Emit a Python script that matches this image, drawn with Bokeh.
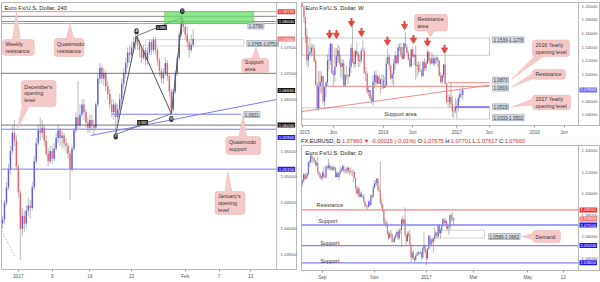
from bokeh.plotting import figure
from bokeh.models import (FixedTicker, PrintfTickFormatter, Label, BoxAnnotation,
                          PolyAnnotation, Span, ColumnDataSource, Div)
from bokeh.layouts import row, column
from bokeh.embed import file_html
from bokeh.resources import INLINE

FONT = "Liberation Sans"
UP = "#5c5cf2"
DOWN = "#ef6262"
WICK = "#a8a8a8"
PINK = "#f6c9c9"
PINK_LINE = "#e68d8d"
TAG_BG = "#d3dbe4"
TAG_LINE = "#8d9db0"

# ---------------- H4 panel data (EUR/USD, 240) ----------------
h4_open0 = 1.0410
h4_close = [1.0418, 1.0450, 1.0480, 1.0515, 1.0550, 1.0585, 1.0570, 1.0520, 1.0470, 1.0400,
            1.0425, 1.0410, 1.0435, 1.0445, 1.0440, 1.0480, 1.0530, 1.0565, 1.0590, 1.0585,
            1.0595, 1.0570, 1.0545, 1.0530, 1.0550, 1.0535, 1.0555, 1.0575, 1.0590, 1.0575,
            1.0580, 1.0565, 1.0560, 1.0545, 1.0515, 1.0555, 1.0590, 1.0615, 1.0600, 1.0620,
            1.0640, 1.0625, 1.0605, 1.0595, 1.0610, 1.0600, 1.0595, 1.0640, 1.0690, 1.0710,
            1.0690, 1.0700, 1.0675, 1.0660, 1.0640, 1.0625, 1.0640, 1.0615, 1.0630, 1.0650,
            1.0680, 1.0700, 1.0720, 1.0740, 1.0735, 1.0750, 1.0760, 1.0770, 1.0755, 1.0745,
            1.0730, 1.0745, 1.0725, 1.0740, 1.0760, 1.0745, 1.0765, 1.0745, 1.0725, 1.0705,
            1.0690, 1.0700, 1.0720, 1.0695, 1.0665, 1.0630, 1.0665, 1.0700, 1.0730, 1.0775,
            1.0800, 1.0790, 1.0775, 1.0760, 1.0745, 1.0755, 1.0766]
h4_high = [1.0425, 1.0455, 1.0490, 1.0525, 1.0560, 1.0600, 1.0610, 1.0580, 1.0525, 1.0475,
           1.0440, 1.0435, 1.0445, 1.0460, 1.0455, 1.0490, 1.0540, 1.0575, 1.0600, 1.0615,
           1.0610, 1.0600, 1.0580, 1.0555, 1.0560, 1.0560, 1.0565, 1.0585, 1.0600, 1.0595,
           1.0590, 1.0585, 1.0575, 1.0565, 1.0550, 1.0560, 1.0595, 1.0625, 1.0685, 1.0640,
           1.0650, 1.0650, 1.0630, 1.0615, 1.0620, 1.0620, 1.0610, 1.0645, 1.0700, 1.0720,
           1.0715, 1.0710, 1.0705, 1.0685, 1.0670, 1.0650, 1.0650, 1.0645, 1.0640, 1.0660,
           1.0690, 1.0710, 1.0730, 1.0750, 1.0755, 1.0760, 1.0770, 1.0775, 1.0775, 1.0765,
           1.0755, 1.0755, 1.0750, 1.0750, 1.0765, 1.0765, 1.0770, 1.0770, 1.0750, 1.0730,
           1.0710, 1.0710, 1.0730, 1.0725, 1.0700, 1.0670, 1.0670, 1.0705, 1.0735, 1.0780,
           1.0812, 1.0805, 1.0795, 1.0790, 1.0765, 1.0775, 1.0785]
h4_low = [1.0400, 1.0410, 1.0445, 1.0475, 1.0505, 1.0545, 1.0560, 1.0515, 1.0460, 1.0340,
          1.0385, 1.0395, 1.0400, 1.0425, 1.0420, 1.0435, 1.0475, 1.0525, 1.0560, 1.0570,
          1.0575, 1.0560, 1.0540, 1.0520, 1.0525, 1.0525, 1.0530, 1.0550, 1.0565, 1.0560,
          1.0555, 1.0555, 1.0545, 1.0535, 1.0455, 1.0510, 1.0550, 1.0585, 1.0595, 1.0595,
          1.0615, 1.0610, 1.0595, 1.0585, 1.0585, 1.0590, 1.0580, 1.0590, 1.0635, 1.0680,
          1.0680, 1.0675, 1.0665, 1.0650, 1.0630, 1.0615, 1.0610, 1.0580, 1.0605, 1.0620,
          1.0640, 1.0670, 1.0690, 1.0710, 1.0720, 1.0725, 1.0740, 1.0745, 1.0745, 1.0730,
          1.0720, 1.0725, 1.0715, 1.0715, 1.0735, 1.0735, 1.0740, 1.0735, 1.0715, 1.0695,
          1.0680, 1.0680, 1.0695, 1.0685, 1.0655, 1.0620, 1.0625, 1.0660, 1.0695, 1.0725,
          1.0770, 1.0780, 1.0765, 1.0750, 1.0730, 1.0740, 1.0750]
h4_tick_pos = [8, 25, 44, 65, 92, 109, 125]
h4_tick_text = ["2017", "9", "16", "23", "Feb", "7", "13"]
h4_price_ticks = [1.035, 1.040, 1.045, 1.050, 1.055, 1.065, 1.070, 1.075]
h4_round_levels = [1.0800, 1.0700, 1.0600]
h4_weekly_res = 1.0819
h4_qm_res = 1.0796
h4_qm_res_top = 1.0810
h4_support_area = (1.0753, 1.0765)
h4_qm_support = 1.0621
h4_dec_open = 1.0592
h4_jan_open = 1.0515
h4_pattern_bar = [57, 67.5, 85, 90.5]
h4_pattern_price = [1.0582, 1.0772, 1.0622, 1.0808]
h4_pattern_names = ["X", "A", "B", "C"]

# ---------------- Weekly panel data ----------------
w_open0 = 1.2030
w_close = [1.2000, 1.1840, 1.1565, 1.1205, 1.1290, 1.1320, 1.1390, 1.1380, 1.1195, 1.0840,
           1.0495, 1.0820, 1.0890, 1.0970, 1.0600, 1.0805, 1.0875, 1.1200, 1.1200, 1.1450,
           1.1010, 1.0985, 1.1110, 1.1260, 1.1350, 1.1165, 1.1105, 1.1160, 1.0830, 1.0985,
           1.0985, 1.0965, 1.1105, 1.1385, 1.1180, 1.1150, 1.1340, 1.1295, 1.1195, 1.1210,
           1.1345, 1.1350, 1.1015, 1.1000, 1.0740, 1.0765, 1.0645, 1.0590, 1.0885, 1.0990,
           1.0865, 1.0965, 1.0855, 1.0920, 1.0915, 1.0795, 1.0830, 1.1155, 1.1255, 1.1130,
           1.0935, 1.1000, 1.1155, 1.1270, 1.1165, 1.1390, 1.1400, 1.1285, 1.1225, 1.1455,
           1.1400, 1.1310, 1.1220, 1.1115, 1.1365, 1.1255, 1.1280, 1.1120, 1.1135, 1.1050,
           1.1035, 1.0975, 1.1175, 1.1085, 1.1160, 1.1325, 1.1195, 1.1155, 1.1235, 1.1155,
           1.1225, 1.1240, 1.1200, 1.0970, 1.0885, 1.0985, 1.1140, 1.0860, 1.0590, 1.0590,
           1.0660, 1.0560, 1.0450, 1.0455, 1.0520, 1.0530, 1.0645, 1.0705, 1.0695, 1.0766]
w_high = [1.2045, 1.2000, 1.1840, 1.1680, 1.1425, 1.1535, 1.1445, 1.1450, 1.1430, 1.1220,
          1.0880, 1.1045, 1.1050, 1.1035, 1.0965, 1.0830, 1.0900, 1.1290, 1.1390, 1.1465,
          1.1440, 1.1050, 1.1385, 1.1385, 1.1435, 1.1410, 1.1280, 1.1215, 1.1215, 1.1010,
          1.1130, 1.1000, 1.1215, 1.1440, 1.1715, 1.1330, 1.1360, 1.1460, 1.1330, 1.1290,
          1.1385, 1.1495, 1.1390, 1.1100, 1.1045, 1.0830, 1.0760, 1.0690, 1.0985, 1.1045,
          1.1060, 1.0990, 1.0990, 1.0935, 1.0990, 1.0990, 1.0960, 1.1240, 1.1375, 1.1285,
          1.1070, 1.1020, 1.1220, 1.1340, 1.1285, 1.1440, 1.1455, 1.1465, 1.1400, 1.1465,
          1.1615, 1.1445, 1.1350, 1.1250, 1.1375, 1.1415, 1.1300, 1.1425, 1.1185, 1.1185,
          1.1185, 1.1075, 1.1200, 1.1235, 1.1195, 1.1365, 1.1345, 1.1240, 1.1325, 1.1285,
          1.1255, 1.1275, 1.1255, 1.1200, 1.1025, 1.0990, 1.1145, 1.1300, 1.0865, 1.0685,
          1.0700, 1.0875, 1.0670, 1.0475, 1.0650, 1.0615, 1.0685, 1.0775, 1.0775, 1.0830]
w_low = [1.1990, 1.1755, 1.1460, 1.1115, 1.1100, 1.1270, 1.1260, 1.1270, 1.1175, 1.0840,
         1.0460, 1.0460, 1.0710, 1.0715, 1.0560, 1.0520, 1.0660, 1.0820, 1.1065, 1.1135,
         1.1000, 1.0820, 1.0885, 1.1135, 1.1170, 1.1135, 1.0955, 1.0915, 1.0810, 1.0810,
         1.0915, 1.0850, 1.0960, 1.1015, 1.1160, 1.1085, 1.1100, 1.1260, 1.1105, 1.1105,
         1.1160, 1.1340, 1.1010, 1.0895, 1.0705, 1.0675, 1.0615, 1.0560, 1.0525, 1.0795,
         1.0805, 1.0850, 1.0850, 1.0710, 1.0780, 1.0775, 1.0815, 1.0810, 1.1160, 1.1065,
         1.0920, 1.0860, 1.0825, 1.1060, 1.1145, 1.1140, 1.1335, 1.1235, 1.1215, 1.1220,
         1.1385, 1.1305, 1.1200, 1.1095, 1.1100, 1.1245, 1.1130, 1.0910, 1.0955, 1.0995,
         1.1030, 1.0950, 1.0955, 1.1045, 1.1045, 1.1150, 1.1185, 1.1120, 1.1160, 1.1120,
         1.1120, 1.1155, 1.1105, 1.0965, 1.0860, 1.0850, 1.0940, 1.0850, 1.0570, 1.0520,
         1.0505, 1.0505, 1.0365, 1.0350, 1.0420, 1.0340, 1.0455, 1.0580, 1.0655, 1.0620]
w_tick_pos = [0, 21, 55, 75, 105, 127, 158, 178]
w_tick_text = ["2015", "Jun", "2016", "Jun", "2017", "Jun", "2018", "Jun"]
w_price_ticks = [1.04, 1.06, 1.10, 1.12, 1.14, 1.16, 1.18, 1.20]
w_res_area = (1.1278, 1.1533)
w_sup_area = (1.0333, 1.0502)
w_res_level = 1.0819
w_open_2016 = 1.0873
w_open_2017 = 1.0515
arrow_week = [18.4, 23.1, 33.3, 40.1, 57.8, 69.4, 75.5, 85.0, 96.6]
arrow_price = [1.1578, 1.1578, 1.1753, 1.1607, 1.1476, 1.1709, 1.1505, 1.1462, 1.1360]

# ---------------- Daily panel data ----------------
d_open0 = 1.1100
d_close = [1.1120, 1.1180, 1.1135, 1.1160, 1.1180, 1.1290, 1.1290, 1.1350, 1.1325, 1.1320,
           1.1310, 1.1265, 1.1285, 1.1200, 1.1185, 1.1145, 1.1160,
           1.1195, 1.1155, 1.1150, 1.1255, 1.1240, 1.1260, 1.1235, 1.1245, 1.1220, 1.1245,
           1.1240, 1.1155, 1.1190, 1.1155, 1.1190, 1.1210, 1.1225, 1.1255, 1.1215, 1.1215,
           1.1220, 1.1240,
           1.1210, 1.1205, 1.1205, 1.1200, 1.1200, 1.1145, 1.1055, 1.1005, 1.1045, 1.0970,
           1.1000, 1.0975, 1.0975, 1.0925, 1.0885, 1.0880, 1.0880, 1.0925, 1.0895, 1.0985,
           1.0975,
           1.1055, 1.1095, 1.1100, 1.1140, 1.1040, 1.1025, 1.0915, 1.0895, 1.0855, 1.0735,
           1.0720, 1.0700, 1.0630, 1.0590, 1.0630, 1.0625, 1.0555, 1.0555, 1.0590, 1.0615,
           1.0645, 1.0590,
           1.0665, 1.0665, 1.0760, 1.0725, 1.0760, 1.0615, 1.0560, 1.0630, 1.0620, 1.0535,
           1.0410, 1.0455, 1.0400, 1.0385, 1.0425, 1.0435, 1.0455, 1.0455, 1.0455, 1.0410,
           1.0495, 1.0520,
           1.0455, 1.0405, 1.0490, 1.0605, 1.0530, 1.0575, 1.0555, 1.0585, 1.0615, 1.0640,
           1.0605, 1.0710, 1.0635, 1.0660, 1.0700, 1.0760, 1.0730, 1.0745, 1.0680, 1.0695,
           1.0690, 1.0800,
           1.0765, 1.0760, 1.07675, 1.0766]
d_high = [1.1130, 1.1190, 1.1185, 1.1200, 1.1190, 1.1300, 1.1310, 1.1366, 1.1360, 1.1335,
          1.1340, 1.1315, 1.1300, 1.1340, 1.1210, 1.1195, 1.1170,
          1.1210, 1.1250, 1.1175, 1.1265, 1.1260, 1.1325, 1.1285, 1.1255, 1.1265, 1.1255,
          1.1255, 1.1245, 1.1205, 1.1205, 1.1200, 1.1255, 1.1240, 1.1265, 1.1265, 1.1230,
          1.1240, 1.1255,
          1.1245, 1.1240, 1.1250, 1.1215, 1.1225, 1.1200, 1.1150, 1.1065, 1.1075, 1.1060,
          1.1015, 1.1025, 1.0990, 1.1000, 1.0935, 1.0905, 1.0895, 1.0935, 1.0945, 1.0990,
          1.0990,
          1.1075, 1.1125, 1.1125, 1.1145, 1.1075, 1.1070, 1.1299, 1.0950, 1.0905, 1.0820,
          1.0775, 1.0750, 1.0740, 1.0655, 1.0650, 1.0665, 1.0630, 1.0585, 1.0610, 1.0635,
          1.0660, 1.0650,
          1.0680, 1.0675, 1.0770, 1.0795, 1.0770, 1.0875, 1.0620, 1.0650, 1.0650, 1.0665,
          1.0535, 1.0465, 1.0480, 1.0415, 1.0445, 1.0460, 1.0470, 1.0460, 1.0470, 1.0460,
          1.0505, 1.0650,
          1.0530, 1.0485, 1.0495, 1.0615, 1.0620, 1.0585, 1.0600, 1.0590, 1.0685, 1.0655,
          1.0640, 1.0720, 1.0715, 1.0680, 1.0710, 1.0775, 1.0775, 1.0775, 1.0755, 1.0725,
          1.0700, 1.0810,
          1.0810, 1.0830, 1.0785, 1.07701]
d_low = [1.1065, 1.1110, 1.1125, 1.1130, 1.1140, 1.1170, 1.1250, 1.1285, 1.1295, 1.1280,
         1.1290, 1.1245, 1.1255, 1.1180, 1.1160, 1.1140, 1.1125,
         1.1125, 1.1150, 1.1140, 1.1145, 1.1225, 1.1225, 1.1220, 1.1210, 1.1215, 1.1205,
         1.1215, 1.1150, 1.1150, 1.1150, 1.1120, 1.1175, 1.1200, 1.1210, 1.1195, 1.1185,
         1.1185, 1.1185,
         1.1195, 1.1170, 1.1185, 1.1165, 1.1105, 1.1140, 1.1045, 1.0995, 1.0985, 1.0965,
         1.0965, 1.0970, 1.0960, 1.0915, 1.0875, 1.0865, 1.0850, 1.0870, 1.0880, 1.0885,
         1.0950,
         1.0960, 1.1050, 1.1070, 1.1070, 1.1025, 1.1015, 1.0905, 1.0865, 1.0830, 1.0710,
         1.0705, 1.0690, 1.0620, 1.0570, 1.0580, 1.0605, 1.0550, 1.0545, 1.0550, 1.0580,
         1.0605, 1.0570,
         1.0570, 1.0630, 1.0505, 1.0715, 1.0710, 1.0600, 1.0525, 1.0555, 1.0600, 1.0525,
         1.0365, 1.0390, 1.0390, 1.0352, 1.0375, 1.0420, 1.0430, 1.0440, 1.0440, 1.0385,
         1.0400, 1.0470,
         1.0450, 1.0340, 1.0385, 1.0480, 1.0520, 1.0505, 1.0540, 1.0455, 1.0565, 1.0580,
         1.0580, 1.0595, 1.0625, 1.0585, 1.0630, 1.0690, 1.0705, 1.0720, 1.0675, 1.0660,
         1.0620, 1.0665,
         1.0740, 1.0740, 1.0705, 1.07617]
d_first_day = -17
d_tick_pos = [0, 44, 88, 128, 174, 204]
d_tick_text = ["Sep", "Nov", "2017", "Mar", "May", "12"]
d_price_ticks = [1.04, 1.06, 1.08, 1.10, 1.12, 1.14]
d_resistance = 1.0850
d_supports = [1.0710, 1.0520, 1.0360]
d_demand = (1.0589, 1.0662)


# ---------------- helpers ----------------
def make_fig(w, h, xr, yr, mbl, mbt, mbb, xticks, xtext, yticks, standoff):
    p = figure(width=w, height=h, x_range=xr, y_range=yr, output_backend="svg",
               toolbar_location=None, y_axis_location="right",
               min_border_left=mbl, min_border_right=0,
               min_border_top=mbt, min_border_bottom=mbb)
    p.grid.visible = False
    p.outline_line_color = "#b8b8b8"
    p.background_fill_color = "white"
    p.border_fill_color = "white"
    for ax in (p.xaxis[0], p.yaxis[0]):
        ax.axis_line_color = "#b8b8b8"
        ax.major_tick_line_color = "#999999"
        ax.minor_tick_line_color = None
        ax.major_tick_out = 2
        ax.major_tick_in = 0
        ax.major_label_standoff = 2
        ax.major_label_text_font = FONT
        ax.major_label_text_font_size = "4.6px"
        ax.major_label_text_color = "#555555"
    # price scale labels sit inside the right strip of the panel, as in the original
    p.yaxis.major_tick_out = 0
    p.yaxis.major_label_standoff = standoff
    p.yaxis.major_label_text_font_size = "4.4px"
    p.xaxis.ticker = FixedTicker(ticks=xticks)
    p.xaxis.major_label_overrides = {t: s for t, s in zip(xticks, xtext)}
    p.yaxis.ticker = FixedTicker(ticks=yticks)
    p.yaxis.formatter = PrintfTickFormatter(format="%.5f")
    return p


def draw_candles(p, xs, open0, closes, highs, lows, width, min_body):
    opens = [open0] + list(closes[:-1])
    hi = [max(h, o, c) for h, o, c in zip(highs, opens, closes)]
    lo = [min(l, o, c) for l, o, c in zip(lows, opens, closes)]
    top, bot, col = [], [], []
    for o, c in zip(opens, closes):
        t, b = max(o, c), min(o, c)
        if t - b < min_body:
            m = (t + b) / 2
            t, b = m + min_body / 2, m - min_body / 2
        top.append(t)
        bot.append(b)
        col.append(UP if c >= o else DOWN)
    src = ColumnDataSource(dict(x=xs, hi=hi, lo=lo, top=top, bot=bot, col=col))
    p.segment(x0="x", y0="lo", x1="x", y1="hi", source=src, line_color=WICK, line_width=0.8)
    p.vbar(x="x", width=width, top="top", bottom="bot", source=src,
           fill_color="col", line_color=None)


def hline(p, y, x0, x1, color, width=1.0, dash="solid"):
    p.segment(x0=[x0], y0=[y], x1=[x1], y1=[y], line_color=color, line_width=width,
              line_dash=dash)


def callout(p, X, Y, box, base, tip, text):
    l, t, r, b = box
    xs = [X(base[0][0]), X(tip[0]), X(base[1][0])]
    ys = [Y(base[0][1]), Y(tip[1]), Y(base[1][1])]
    p.add_layout(PolyAnnotation(xs=xs, ys=ys, fill_color=PINK, fill_alpha=1,
                                line_color=PINK_LINE, line_width=1))
    p.add_layout(BoxAnnotation(left=X(l), right=X(r), top=Y(t), bottom=Y(b),
                               fill_color=PINK, fill_alpha=1, line_color=PINK_LINE,
                               line_width=1, border_radius=3))
    p.add_layout(PolyAnnotation(xs=xs, ys=ys, fill_color=PINK, fill_alpha=1,
                                line_color=None))
    p.add_layout(Label(x=X(l + 3), y=Y((t + b) / 2), text=text, text_font=FONT,
                       text_font_size="5.3px", text_color="#333333",
                       text_align="left", text_baseline="middle", text_line_height=1.15))


def axis_tag(p, x, y, text, bg, fg="white"):
    p.add_layout(Label(x=x, y=y, text=text, text_font=FONT, text_font_size="4.3px",
                       text_color=fg, text_align="left", text_baseline="middle",
                       background_fill_color=bg, padding=1))


def chart_tag(p, x, y, text):
    p.add_layout(Label(x=x, y=y, text=text, text_font=FONT, text_font_size="4.6px",
                       text_color="#333333", text_align="left", text_baseline="middle",
                       background_fill_color=TAG_BG, border_line_color=TAG_LINE,
                       border_line_width=0.6, padding=1))


def plain_text(p, x, y, text, size="5.5px", color="#333333", align="left"):
    p.add_layout(Label(x=x, y=y, text=text, text_font=FONT, text_font_size=size,
                       text_color=color, text_align=align, text_baseline="middle"))


# ---------------- H4 panel ----------------
def LX(px):
    return (px - 2) / 2.0


def LY(py):
    return 1.08 - (py - 21) * 0.005 / 25.9


pL = make_fig(299, 282, (LX(1), LX(298)), (LY(269), LY(2)), 1, 2, 13,
              h4_tick_pos, h4_tick_text, h4_price_ticks, -16)
draw_candles(pL, list(range(len(h4_close))), h4_open0, h4_close, h4_high, h4_low, 0.72, 0.00012)

XL0, XL1 = LX(0), LX(278)
pL.line([LX(0), LX(15)], [LY(228), LY(257)], line_color="#888888", line_dash="1 2", line_width=0.8)
hline(pL, h4_weekly_res, XL0, XL1, "#f08a8a")
hline(pL, h4_qm_res_top, XL0, XL1, "#666666", 0.8)
hline(pL, h4_qm_res, XL0, XL1, "#f08a8a")
for lv in h4_round_levels:
    hline(pL, lv, XL0, XL1, "#222222", 1.2, "1 1")
hline(pL, h4_dec_open, XL0, XL1, "#7c7cf5")
hline(pL, h4_jan_open, XL0, XL1, "#7c7cf5")
hline(pL, h4_qm_support, LX(112), LX(242), "#7c7cf5")
pL.line([LX(91), LX(278)], [LY(135), LY(99)], line_color="#7c7cf5", line_width=1)
pL.add_layout(Span(location=XL1, dimension="height", line_color="#b8b8b8", line_width=1))

pL.add_layout(BoxAnnotation(left=LX(165), right=LX(255), top=h4_weekly_res, bottom=h4_qm_res,
                            fill_color="#66dd66", fill_alpha=0.75, line_color="#3fae3f",
                            line_width=1, level="glyph"))
pL.add_layout(BoxAnnotation(left=LX(146), right=LX(245), top=h4_support_area[1],
                            bottom=h4_support_area[0], fill_alpha=0, line_color="#777777",
                            line_width=1))

# harmonic pattern
px_, py_ = h4_pattern_bar, h4_pattern_price
pL.line(px_, py_, line_color="#555555", line_width=1)
pL.line([px_[0], px_[2]], [py_[0], py_[2]], line_color="#555555", line_width=0.8)
pL.line([px_[1], px_[3]], [py_[1], py_[3]], line_color="#555555", line_width=0.8)
offs = [-0.0004, 0.0009, -0.0010, 0.0012]
for bx, by, nm, off in zip(px_, py_, h4_pattern_names, offs):
    pL.add_layout(Label(x=bx, y=by + off, text=nm, text_font=FONT, text_font_size="3.6px",
                        text_color="white", text_align="center", text_baseline="middle",
                        background_fill_color="#333333", padding=1, border_radius=3))
pL.add_layout(Label(x=LX(143), y=LY(122), text="0.382", text_font=FONT, text_font_size="3.6px",
                    text_color="white", text_align="center", text_baseline="middle",
                    background_fill_color="#222222", padding=1))
pL.add_layout(Label(x=LX(162), y=LY(27), text="0.886", text_font=FONT, text_font_size="3.6px",
                    text_color="white", text_align="center", text_baseline="middle",
                    background_fill_color="#222222", padding=1))

chart_tag(pL, LX(249), LY(25.5), "1.0796")
chart_tag(pL, LX(248), LY(43), "1.0765-1.0753")
chart_tag(pL, LX(245), LY(114), "1.0621")

callout(pL, LX, LY, (2, 39, 34, 55), ((12, 39.5), (20, 39.5)), (16, 12), "Weekly\nresistance")
callout(pL, LX, LY, (54, 38, 84, 56), ((66, 38.5), (74, 38.5)), (70, 24), "Quasimodo\nresistance")
callout(pL, LX, LY, (243, 58, 270, 72), ((253, 58.5), (261, 58.5)), (257, 47), "Support\narea")
callout(pL, LX, LY, (21, 80, 56, 106), ((22, 105.5), (29, 105.5)), (17, 128),
        "December's\nopening\nlevel")
callout(pL, LX, LY, (227, 136, 262, 154), ((240, 136.5), (248, 136.5)), (244, 115),
        "Quasimodo\nsupport")
callout(pL, LX, LY, (216, 191, 246, 214), ((226, 191.5), (233, 191.5)), (229, 171),
        "January's\nopening\nlevel")

axis_tag(pL, LX(279), h4_weekly_res, "1.08190", "#f03c3c")
axis_tag(pL, LX(279), 1.0800, "1.08000", "#111111")
axis_tag(pL, LX(279), 1.0766, "1.07660", "#f07878")
axis_tag(pL, LX(279), LY(90), "1.06660", "#111111")
axis_tag(pL, LX(279), 1.0600, "1.06000", "#111111")
axis_tag(pL, LX(279), LY(137), "1.05900", "#1c1cf0")
axis_tag(pL, LX(279), h4_jan_open, "1.05150", "#1c1cf0")
plain_text(pL, LX(4), LY(7), "Euro Fx/U.S. Dollar, 240", size="5.8px", color="#222222")

# ---------------- Weekly panel ----------------
def WX(px):
    return (px - 302) / 1.47


def WY(py):
    return 1.20 - (py - 6) / 687.5


pW = make_fig(301, 137, (WX(301), WX(600)), (WY(127), WY(2)), 2, 2, 10,
              w_tick_pos, w_tick_text, w_price_ticks, -19)
draw_candles(pW, list(range(len(w_close))), w_open0, w_close, w_high, w_low, 0.8, 0.0006)
pW.add_layout(Span(location=WX(578), dimension="height", line_color="#b8b8b8", line_width=1))

pW.add_layout(BoxAnnotation(left=WX(301.5), right=WX(489), top=w_res_area[1], bottom=w_res_area[0],
                            fill_alpha=0, line_color="#555555", line_width=1))
pW.add_layout(BoxAnnotation(left=WX(301.5), right=WX(489), top=w_sup_area[1], bottom=w_sup_area[0],
                            fill_alpha=0, line_color="#555555", line_width=1))
hline(pW, w_res_level, WX(327), WX(489), "#f08a8a")
hline(pW, w_open_2016, WX(447), WX(489), "#f08a8a")
hline(pW, w_open_2017, WX(455), WX(489), "#6d6df5", 1.5)
pW.line([WX(300), WX(489)], [WY(113), WY(86)], line_color="#f08a8a", line_width=1)

pW.rect(x=arrow_week, y=[a + 0.0045 for a in arrow_price], width=2, height=4,
        width_units="screen", height_units="screen", fill_color="#e8463f", line_color=None)
pW.scatter(x=arrow_week, y=arrow_price, marker="inverted_triangle", size=6,
           fill_color="#e8463f", line_color="#e8463f")

plain_text(pW, WX(400), WY(115), "Support area", size="5.6px", align="center")
chart_tag(pW, WX(492), WY(40), "1.1533-1.1278")
chart_tag(pW, WX(492), WY(81), "1.0873")
chart_tag(pW, WX(492), WY(89), "1.0819")
chart_tag(pW, WX(492), WY(108), "1.0515")
chart_tag(pW, WX(492), WY(119), "1.0333-1.0502")

callout(pW, WX, WY, (414, 14, 447, 31), ((426, 30.5), (434, 30.5)), (430, 37), "Resistance\narea")
callout(pW, WX, WY, (532, 40, 569, 57), ((534, 56.5), (543, 56.5)), (511, 80),
        "2016 Yearly\nopening level")
callout(pW, WX, WY, (532, 70, 565, 80), ((532.5, 74), (532.5, 79.5)), (511, 88), "Resistance")
callout(pW, WX, WY, (532, 96, 570, 111), ((532.5, 100), (532.5, 106)), (512, 108),
        "2017 Yearly\nopening level")

axis_tag(pW, WX(579), 1.0766, "1.07660", "#6b6bf7")
plain_text(pW, WX(305), WY(8), "Euro Fx/U.S. Dollar, W", size="5.8px", color="#222222")

# ---------------- header between the right panels ----------------
RED = "#e03030"
DARK = "#222222"
hdr_parts = [("FX:EURUSD, D ", DARK), ("1.07660 \u25bc -0.00015 (-0.01%) ", RED),
             ("O:", DARK), ("1.07675 ", RED), ("H:", DARK), ("1.07701 ", RED),
             ("L:", DARK), ("1.07617 ", RED), ("C:", DARK), ("1.07660", RED)]
hdr_html = ('<div style="font-family:\'Liberation Sans\';font-size:5.6px;line-height:8px;'
            'white-space:nowrap;padding-left:2px;">'
            + "".join('<span style="color:%s">%s</span>' % (c, t.replace(" ", "&nbsp;"))
                      for t, c in hdr_parts)
            + "</div>")
header = Div(text=hdr_html, width=301, height=8, margin=0,
             styles={"font-size": "5.6px", "line-height": "8px", "overflow": "hidden",
                     "background-color": "#fafafa"})

# ---------------- Daily panel ----------------
def DX(px):
    return (px - 322) / 1.18


def DY(py):
    return 1.14 - (py - 150) / 1080.0


pD = make_fig(301, 137, (DX(301), DX(600)), (DY(270), DY(145)), 2, 0, 12,
              d_tick_pos, d_tick_text, d_price_ticks, -19)
draw_candles(pD, [d_first_day + i for i in range(len(d_close))], d_open0,
             d_close, d_high, d_low, 0.8, 0.0003)
pD.add_layout(Span(location=DX(578), dimension="height", line_color="#b8b8b8", line_width=1))

hline(pD, d_resistance, DX(301), DX(578), "#f08a8a", 1.3)
for lv in d_supports:
    hline(pD, lv, DX(301), DX(578), "#8383f5", 1.3)
pD.add_layout(BoxAnnotation(left=DX(438), right=DX(484), top=d_demand[1], bottom=d_demand[0],
                            fill_alpha=0, line_color="#666666", line_width=1))
chart_tag(pD, DX(488), DY(236), "1.0589-1.0662")
callout(pD, DX, DY, (532, 230, 560, 242), ((532.5, 233), (532.5, 239)), (521, 236), "Demand")

plain_text(pD, DX(316), DY(204), "Resistance", size="5.4px")
plain_text(pD, DX(318), DY(220), "Support", size="5.4px")
plain_text(pD, DX(320), DY(242), "Support", size="5.4px")
plain_text(pD, DX(320), DY(260), "Support", size="5.4px")

axis_tag(pD, DX(579), d_resistance, "1.08500", "#f52a2a")
axis_tag(pD, DX(579), 1.0766, "1.07660", "#f07878")
for lv in d_supports:
    axis_tag(pD, DX(579), lv, "%.5f" % lv, "#1c1cf0")
plain_text(pD, DX(305), DY(152), "Euro Fx/U.S. Dollar, D", size="5.8px", color="#222222")

layout = row(pL, column(pW, header, pD))
open("out.html", "w").write(file_html(layout, INLINE))
